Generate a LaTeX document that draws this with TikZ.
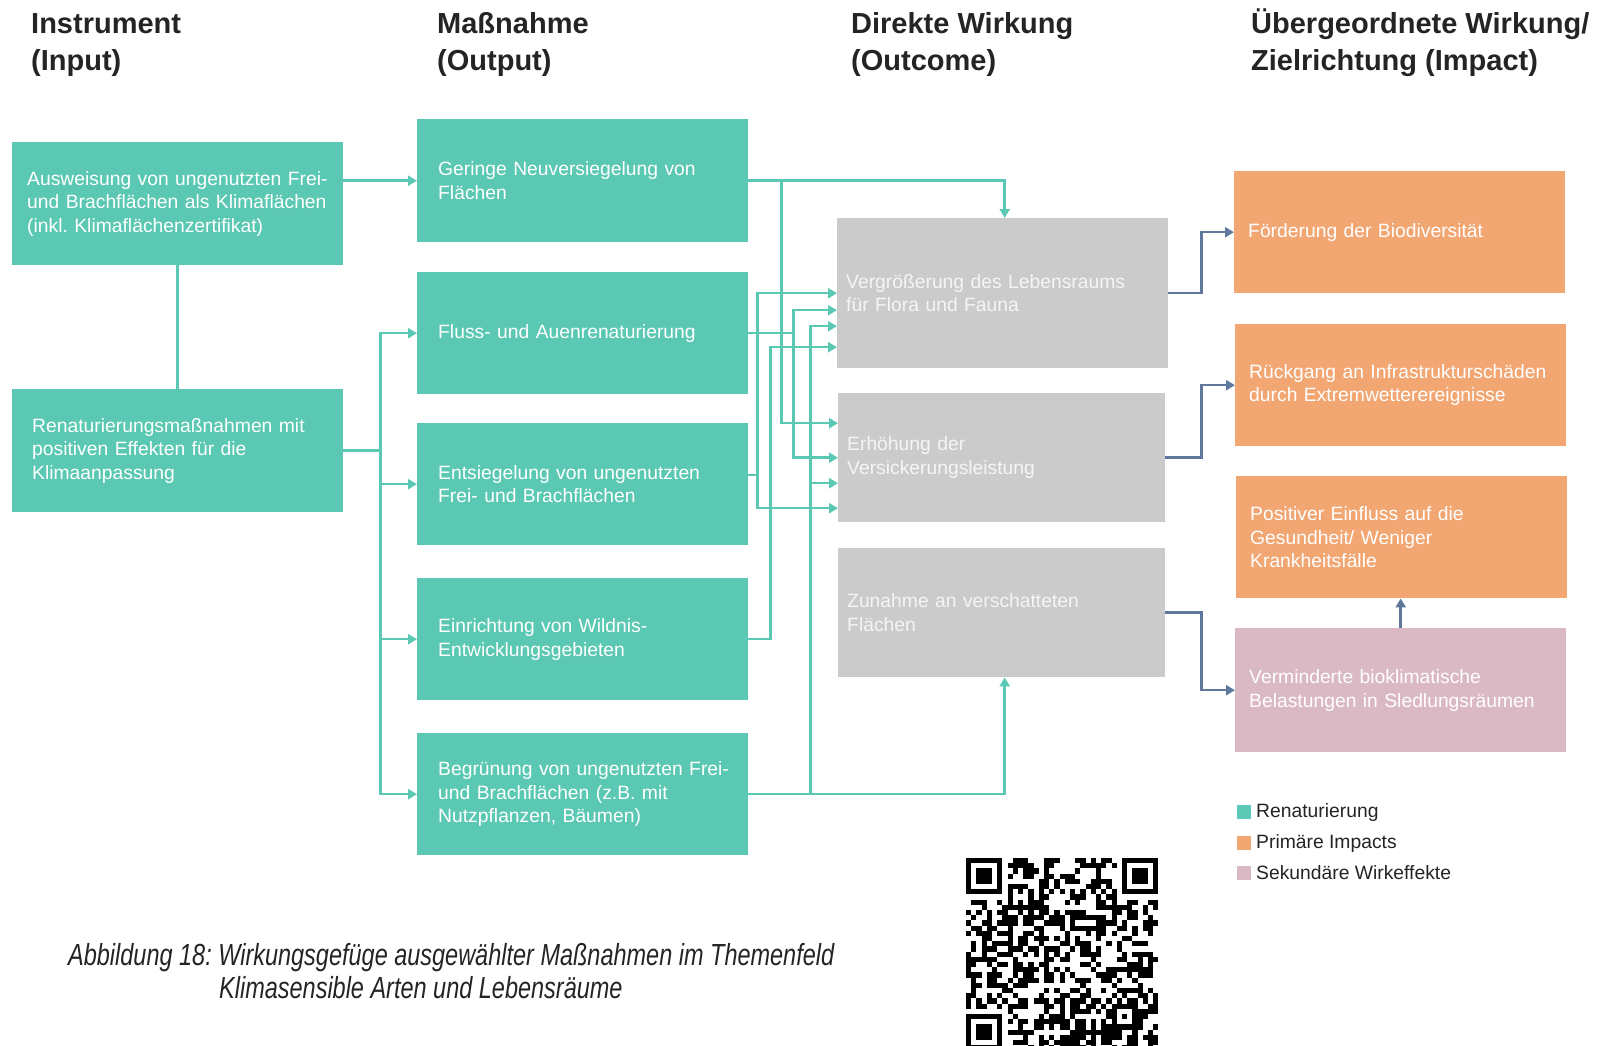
\documentclass[tikz,border=0pt]{standalone}
\usepackage{fontspec}
\setmainfont{Liberation Sans}
\newfontfamily\captionfont[FakeStretch=0.77]{Liberation Sans}
\usepackage{xcolor}
\definecolor{renat}{RGB}{90,200,178}
\definecolor{primaer}{RGB}{242,166,114}
\definecolor{sekundaer}{RGB}{218,184,196}
\definecolor{outcome}{RGB}{203,203,203}
\definecolor{outcometext}{RGB}{245,245,245}
\definecolor{impactline}{RGB}{96,120,156}
\definecolor{darktext}{RGB}{36,36,36}
\usepackage{tikz}
\usetikzlibrary{arrows.meta}
\frenchspacing
\newcommand{\widthbox}{331pt}
\newcommand{\widthoutcome}{327pt}
\newcommand{\heightbox}{122pt}
\newcommand{\heightoutcome}{129pt}
\newcommand{\qrmodule}{5.2pt}
\tikzset{
    common/.style={anchor=north west, rectangle, inner sep=0pt, align=left,
        text=white, font=\fontsize{19.3}{23.6}\selectfont},
    inset/.style={execute at begin node={\leftskip=#1\relax}},
    instrument/.style={common, fill=renat, text width=\widthbox, minimum height=123pt, inset=#1},
    instrument/.default=15pt,
    massnahme/.style={instrument=21pt, minimum height=\heightbox},
    outcome/.style={common, fill=outcome, text=outcometext, text width=\widthoutcome,
        minimum height=\heightoutcome, inset=9pt},
    impact/.style={common, fill=primaer, text width=\widthbox, minimum height=\heightbox, inset=14pt},
    secondary/.style={impact, fill=sekundaer},
    header/.style={anchor=base west, inner sep=0pt, align=left, text=darktext,
        font=\fontsize{29}{37}\selectfont\bfseries},
    legendbox/.style={rectangle, minimum size=14pt, inner sep=0pt},
    legendtext/.style={anchor=west, inner sep=0pt, text=darktext, font=\fontsize{19.3}{23.6}\selectfont},
    link/.style={draw=renat, line width=2.5pt},
    flow/.style={link, -{Triangle[length=9pt, width=10pt]}},
    effect/.style={draw=impactline, line width=2.5pt, -{Triangle[length=9pt, width=10pt]}}
}

\begin{document}
\begin{tikzpicture}[x=1pt, y=-1pt]
    \useasboundingbox (0,0) rectangle (1607,1045);

    % column headers (anchored on the second line)
    \node[header] (h-input) at (31,70) {Instrument\\(Input)};
    \node[header] (h-output) at (437,70) {Maßnahme\\(Output)};
    \node[header] (h-outcome) at (851,70) {Direkte Wirkung\\(Outcome)};
    \node[header] (h-impact) at (1251,70) {Übergeordnete Wirkung/\\Zielrichtung (Impact)};

    % instruments
    \node[instrument] (ausweisung) at (12,142)
        {Ausweisung von ungenutzten Frei-\\und Brachflächen als Klimaflächen\\(inkl. Klimaflächenzertifikat)};
    \node[instrument=20pt] (renat) at (12,389)
        {Renaturierungsmaßnahmen mit\\positiven Effekten für die\\Klimaanpassung};

    % measures
    \node[massnahme, minimum height=123pt] (geringe) at (417,119) {Geringe Neuversiegelung von\\Flächen};
    \node[massnahme] (fluss) at (417,272) {Fluss- und Auenrenaturierung};
    \node[massnahme] (entsieg) at (417,423) {Entsiegelung von ungenutzten\\Frei- und Brachflächen};
    \node[massnahme] (wildnis) at (417,578) {Einrichtung von Wildnis-\\Entwicklungsgebieten};
    \node[massnahme] (begruen) at (417,733)
        {Begrünung von ungenutzten Frei-\\und Brachflächen (z.B. mit\\Nutzpflanzen, Bäumen)};

    % outcomes
    \node[outcome, text width=\widthbox, minimum height=150pt] (vergr) at (837,218)
        {Vergrößerung des Lebensraums\\für Flora und Fauna};
    \node[outcome] (erhoeh) at (838,393) {Erhöhung der\\Versickerungsleistung};
    \node[outcome] (zunahme) at (838,548) {Zunahme an verschatteten\\Flächen};

    % impacts
    \node[impact] (foerd) at (1234,171) {Förderung der Biodiversität};
    \node[impact] (rueck) at (1235,324) {Rückgang an Infrastrukturschäden\\durch Extremwetterereignisse};
    \node[impact] (posit) at (1236,476) {Positiver Einfluss auf die\\Gesundheit/ Weniger\\Krankheitsfälle};
    \node[secondary, minimum height=124pt] (vermin) at (1235,628)
        {Verminderte bioklimatische\\Belastungen in Sledlungsräumen};

    % legend
    \node[legendbox, fill=renat] (leg-renat) at (1244,812) {};
    \node[legendtext] (leg-renat-text) at (1256,812) {Renaturierung};
    \node[legendbox, fill=primaer] (leg-primaer) at (1244,843) {};
    \node[legendtext] (leg-primaer-text) at (1256,843) {Primäre Impacts};
    \node[legendbox, fill=sekundaer] (leg-sekundaer) at (1244,873) {};
    \node[legendtext] (leg-sekundaer-text) at (1256,873) {Sekundäre Wirkeffekte};

    % caption (anchored on the second line)
    \node[anchor=base west, inner sep=0pt, align=left, text=darktext,
          font=\captionfont\itshape\fontsize{30.5}{33}\selectfont] (caption) at (68,998)
        {Abbildung 18: Wirkungsgefüge ausgewählter Maßnahmen im Themenfeld\\\hspace*{151pt}Klimasensible Arten und Lebensräume};

    % instruments -> measures
    \draw[flow] (ausweisung.east |- geringe.west) -- (geringe.west);
    \draw[link] (ausweisung.south) -- (renat.north);
    \foreach \target in {fluss, entsieg, wildnis, begruen}
        \draw[flow] (renat.east) -- ++(37,0) |- (\target.west);

    % measures -> outcomes
    \draw[flow] (geringe.east) -| ([xshift=2pt]vergr.north);
    \draw[flow] (geringe.east) -- ++(33,0) |- ([yshift=34.5pt]erhoeh.west);
    \draw[flow] (fluss.east) -- ++(45,0) |- ([yshift=-17pt]vergr.west);
    \draw[flow] (fluss.east) -- ++(45,0) |- (erhoeh.west);
    \draw[flow] ([yshift=9pt]entsieg.east) -- ++(9,0) |- (vergr.west);
    \draw[flow] ([yshift=9pt]entsieg.east) -- ++(9,0) |- ([yshift=-50.5pt]erhoeh.west);
    \draw[flow] (wildnis.east) -- ++(22,0) |- ([yshift=-54pt]vergr.west);
    \draw[flow] (begruen.east) -- ++(62,0) |- ([yshift=-33pt]vergr.west);
    \draw[flow] (begruen.east) -- ++(62,0) |- ([yshift=-25.5pt]erhoeh.west);
    \draw[flow] (begruen.east) -| ([xshift=3pt]zunahme.south);

    % outcomes -> impacts
    \draw[effect] (vergr.east) -- ++(33,0) |- (foerd.west);
    \draw[effect] (erhoeh.east) -- ++(36,0) |- (rueck.west);
    \draw[effect] (zunahme.east) -- ++(36,0) |- (vermin.west);
    \draw[effect] (vermin.north) -- (vermin.north |- posit.south);

    % QR code
    \begin{scope}[shift={(966,858)}, x=\qrmodule, y=-\qrmodule]
        \clip (0,0) rectangle (37,37);
        \pgfmathsetseed{1845}
        \foreach \col in {0,...,36}
            \foreach \row in {0,...,36} {
                \pgfmathrandominteger{\bit}{0}{1}
                \ifnum\bit=1 \fill (\col,\row) rectangle ++(1,1); \fi
            }
        \fill[white] (8,6) rectangle (29,7);
        \fill[white] (6,8) rectangle (7,29);
        \foreach \k in {8,10,...,28} {
            \fill (\k,6) rectangle ++(1,1);
            \fill (6,\k) rectangle ++(1,1);
        }
        \foreach \cx/\cy in {0/0, 30/0, 0/30} {
            \fill[white] (\cx-1,\cy-1) rectangle ++(9,9);
            \fill (\cx,\cy) rectangle ++(7,7);
            \fill[white] (\cx+1,\cy+1) rectangle ++(5,5);
            \fill (\cx+2,\cy+2) rectangle ++(3,3);
        }
        \fill (28,28) rectangle ++(5,5);
        \fill[white] (29,29) rectangle ++(3,3);
        \fill (30,30) rectangle ++(1,1);
    \end{scope}
\end{tikzpicture}
\end{document}
